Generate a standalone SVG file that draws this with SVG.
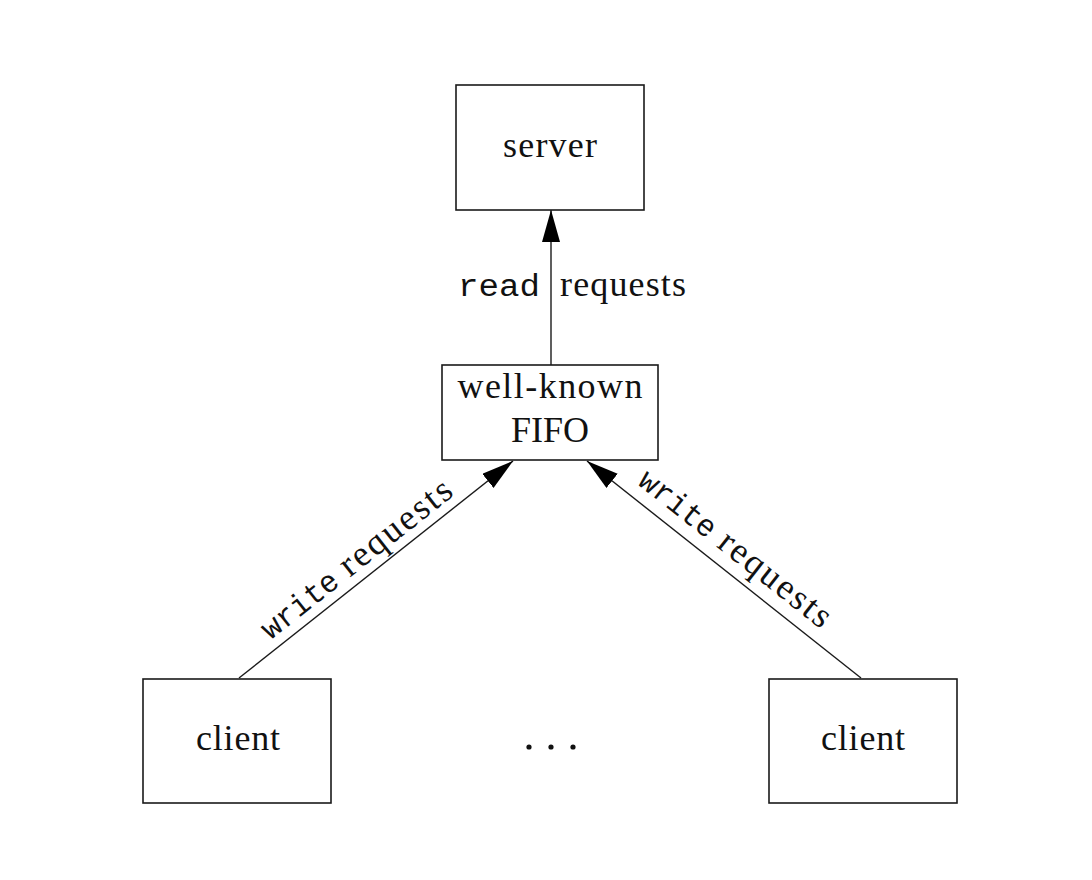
<svg xmlns="http://www.w3.org/2000/svg" width="1092" height="880" viewBox="0 0 1092 880">
  <style>
    .box { fill: #ffffff; stroke: #1a1a1a; stroke-width: 1.6; }
    .serif { font-family: "Liberation Serif", "Times New Roman", serif; font-size: 36px; fill: #111; }
    .mono { font-family: "Liberation Mono", "Courier New", monospace; font-size: 31px; fill: #111; }
    .edge { stroke: #1a1a1a; stroke-width: 1.4; fill: none; marker-end: url(#arrow); }
  </style>
  <defs>
    <marker id="arrow" markerUnits="userSpaceOnUse" markerWidth="34" markerHeight="20" refX="32" refY="9" orient="auto">
      <path d="M0,0 L32,9 L0,18 Z" fill="#000"/>
    </marker>
  </defs>
  <rect width="1092" height="880" fill="#ffffff"/>

  <!-- connectors -->
  <g id="connectors">
    <line class="edge" x1="551" y1="365" x2="551" y2="210"/>
    <line class="edge" x1="239" y1="678" x2="513" y2="461"/>
    <line class="edge" x1="861" y1="678" x2="587" y2="461"/>

    <text class="mono" x="540" y="296" text-anchor="end" textLength="82" lengthAdjust="spacingAndGlyphs">read</text>
    <text class="serif" x="560" y="296" textLength="126">requests</text>

    <g transform="translate(371,561) rotate(-38.3)">
      <text class="mono" x="-128" y="0" textLength="90" lengthAdjust="spacingAndGlyphs">write</text>
      <text class="serif" x="-27" y="0" textLength="134">requests</text>
    </g>
    <g transform="translate(737,563) rotate(38.3)">
      <text class="mono" x="-128" y="0" textLength="90" lengthAdjust="spacingAndGlyphs">write</text>
      <text class="serif" x="-27" y="0" textLength="134">requests</text>
    </g>
  </g>

  <g id="server">
    <rect class="box" x="456" y="85" width="188" height="125"/>
    <text class="serif" x="550" y="157" text-anchor="middle" textLength="94">server</text>
  </g>

  <g id="fifo">
    <rect class="box" x="442" y="365" width="216" height="95"/>
    <text class="serif" x="550" y="398" text-anchor="middle" textLength="185">well-known</text>
    <text class="serif" x="550" y="442" text-anchor="middle" textLength="78">FIFO</text>
  </g>

  <g id="client-left">
    <rect class="box" x="143" y="679" width="188" height="124"/>
    <text class="serif" x="238" y="750" text-anchor="middle" textLength="84">client</text>
  </g>

  <g id="ellipsis">
    <circle cx="529" cy="747" r="2.6" fill="#111"/>
    <circle cx="551" cy="747" r="2.6" fill="#111"/>
    <circle cx="573" cy="747" r="2.6" fill="#111"/>
  </g>

  <g id="client-right">
    <rect class="box" x="769" y="679" width="188" height="124"/>
    <text class="serif" x="863" y="750" text-anchor="middle" textLength="84">client</text>
  </g>
</svg>
